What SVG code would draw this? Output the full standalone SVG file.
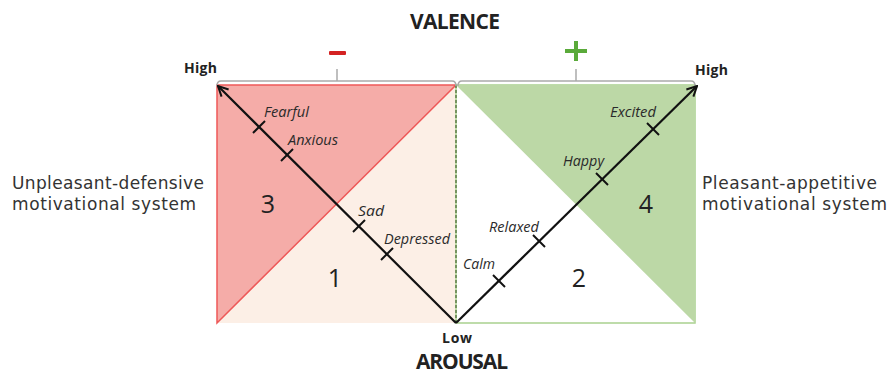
<svg xmlns="http://www.w3.org/2000/svg" width="890" height="374" viewBox="0 0 890 374">
  <defs>
    <marker id="arr" viewBox="0 0 12 12" refX="11" refY="6" markerWidth="12" markerHeight="12" markerUnits="userSpaceOnUse" orient="auto">
      <path d="M1,1 L11,6 L1,11" fill="none" stroke="#111" stroke-width="2"/>
    </marker>
    <style>
      .emo { font-family: "Open Sans", "Liberation Sans", sans-serif; font-style: italic; font-size: 14px; fill: #2a2a2a; }
      .num { font-family: "Open Sans", "Liberation Sans", sans-serif; font-size: 25px; fill: #222; text-anchor: middle; }
      .side { font-family: "DejaVu Sans", "Liberation Sans", sans-serif; font-size: 17px; fill: #333; }
      .title { font-family: "Open Sans", "Liberation Sans", sans-serif; font-weight: bold; font-size: 21px; fill: #222; text-anchor: middle; }
      .small { font-family: "Open Sans", "Liberation Sans", sans-serif; font-weight: bold; font-size: 14px; fill: #222; }
      .tick { stroke: #111; stroke-width: 2; }
      .axis { stroke: #111; stroke-width: 2.2; fill: none; }
      .brace { stroke: #aaa; stroke-width: 1.5; fill: none; }
    </style>
  </defs>

  <g id="negative-quadrant">
    <rect x="217" y="85" width="239" height="238" fill="#fcefe6"/>
    <path d="M217,323 L217,85 L456,85 Z" fill="#f5aca8" stroke="#ee5858" stroke-width="1.5"/>
  </g>

  <g id="positive-quadrant">
    <rect x="456" y="85" width="239" height="238" fill="#ffffff" stroke="#a9d18e" stroke-width="1.5"/>
    <path d="M456,85 L695,85 L695,323 Z" fill="#bcd8a6"/>
  </g>

  <g id="valence-divider">
    <line x1="456" y1="85" x2="456" y2="323" stroke="#4f6e3c" stroke-width="1.3" stroke-dasharray="3,2"/>
  </g>

  <g id="negative-brace">
    <path class="brace" d="M217,86 Q217,81 221,81 L452,81 Q456,81 456,86"/>
    <line class="brace" x1="337" y1="81" x2="337" y2="69"/>
    <rect x="329" y="51" width="17" height="4" rx="1" fill="#d42222"/>
  </g>

  <g id="positive-brace">
    <path class="brace" d="M458,86 Q458,81 462,81 L691,81 Q695,81 695,86"/>
    <line class="brace" x1="576" y1="81" x2="576" y2="69"/>
    <path d="M565,51 L587,51 M576,41 L576,61" stroke="#5aaa3a" stroke-width="4" fill="none"/>
  </g>

  <g id="connectors">
    <line class="axis" x1="456" y1="323" x2="218" y2="86" marker-end="url(#arr)"/>
    <line class="axis" x1="456" y1="323" x2="697" y2="86" marker-end="url(#arr)"/>
    <line class="tick" x1="253" y1="133" x2="265" y2="121"/>
    <line class="tick" x1="281" y1="161" x2="293" y2="149"/>
    <line class="tick" x1="353" y1="232" x2="365" y2="220"/>
    <line class="tick" x1="381" y1="260" x2="393" y2="248"/>
    <line class="tick" x1="493" y1="275" x2="505" y2="287"/>
    <line class="tick" x1="533" y1="235" x2="545" y2="247"/>
    <line class="tick" x1="596" y1="173" x2="608" y2="185"/>
    <line class="tick" x1="647" y1="123" x2="659" y2="135"/>
  </g>

  <g id="emotion-labels">
    <text class="emo" x="264" y="117" textLength="45" lengthAdjust="spacingAndGlyphs">Fearful</text>
    <text class="emo" x="288" y="145" textLength="50" lengthAdjust="spacingAndGlyphs">Anxious</text>
    <text class="emo" x="358" y="216" textLength="26" lengthAdjust="spacingAndGlyphs">Sad</text>
    <text class="emo" x="384" y="244" textLength="66" lengthAdjust="spacingAndGlyphs">Depressed</text>
    <text class="emo" x="463" y="269" textLength="32" lengthAdjust="spacingAndGlyphs">Calm</text>
    <text class="emo" x="489" y="232" textLength="50" lengthAdjust="spacingAndGlyphs">Relaxed</text>
    <text class="emo" x="563" y="166" textLength="41" lengthAdjust="spacingAndGlyphs">Happy</text>
    <text class="emo" x="610" y="117" textLength="46" lengthAdjust="spacingAndGlyphs">Excited</text>
  </g>

  <g id="quadrant-numbers">
    <text class="num" x="268" y="213">3</text>
    <text class="num" x="335" y="287">1</text>
    <text class="num" x="579" y="287">2</text>
    <text class="num" x="646" y="213">4</text>
  </g>

  <g id="side-labels">
    <text class="side" x="12" y="189" textLength="192">Unpleasant-defensive</text>
    <text class="side" x="12" y="210" textLength="184">motivational system</text>
    <text class="side" x="702" y="189" textLength="175">Pleasant-appetitive</text>
    <text class="side" x="702" y="210" textLength="185">motivational system</text>
  </g>

  <g id="axis-labels">
    <text class="title" x="455" y="29" textLength="90">VALENCE</text>
    <text class="title" x="462" y="369" textLength="92">AROUSAL</text>
    <text class="small" x="457" y="343" text-anchor="middle" textLength="30">Low</text>
    <text class="small" x="184" y="73" textLength="33">High</text>
    <text class="small" x="695" y="75" textLength="33">High</text>
  </g>
</svg>
